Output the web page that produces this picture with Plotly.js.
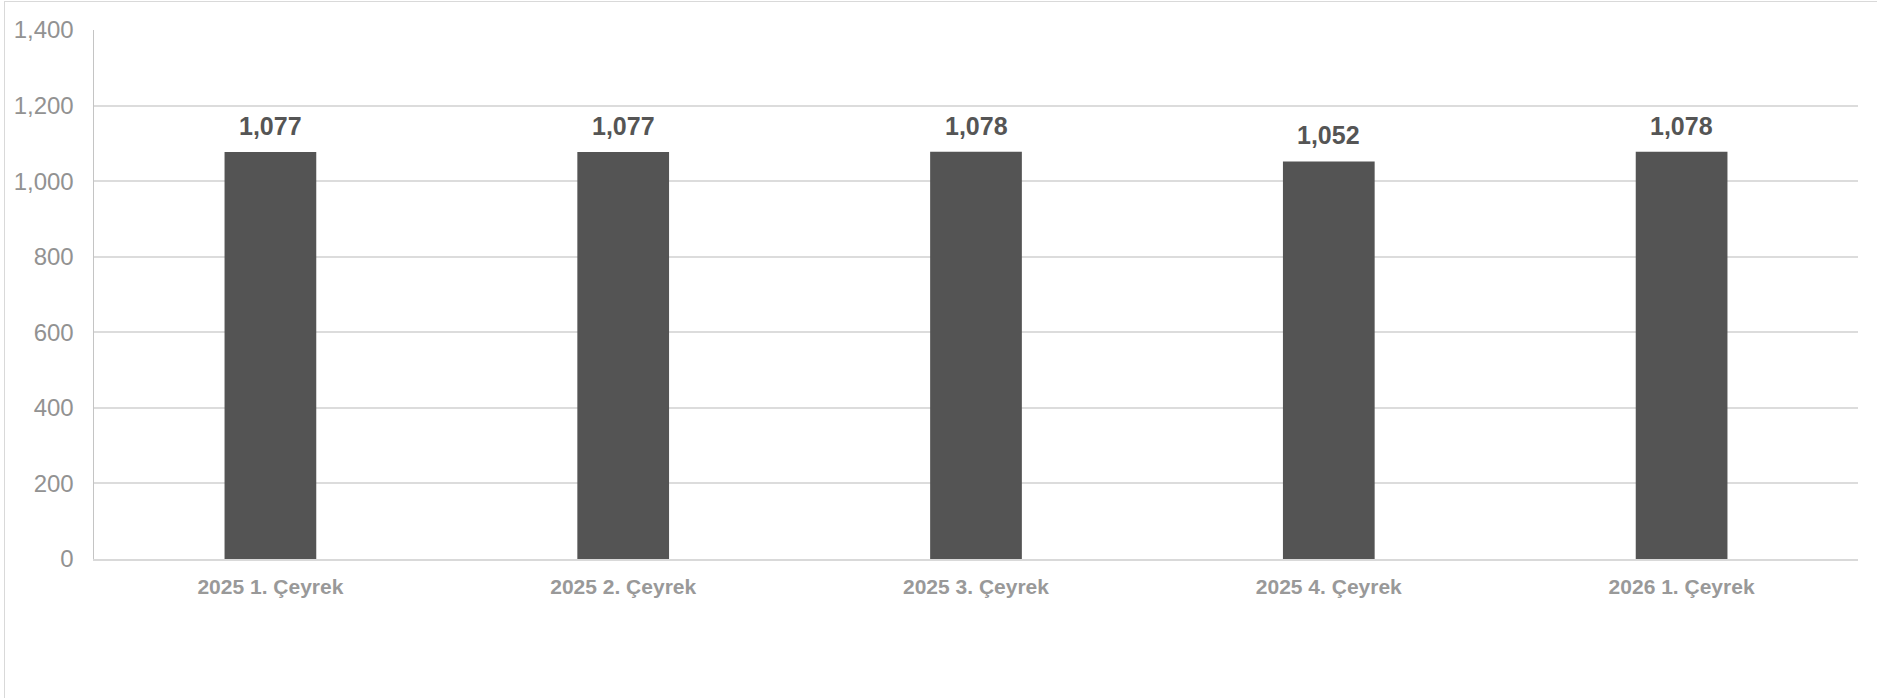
<!DOCTYPE html>
<html>
<head>
<meta charset="utf-8">
<script src="https://cdn.plot.ly/plotly-3.0.1.min.js"></script>
<style>
html,body{margin:0;padding:0;background:#fff;}
#frame{position:absolute;left:4px;top:1px;width:1900px;height:720px;border-left:1.5px solid #d9d9d9;border-top:1.5px solid #d9d9d9;box-sizing:border-box;pointer-events:none;}
#chart{position:absolute;left:0;top:0;width:1877px;height:698px;}
</style>
</head>
<body>
<div id="chart"></div>
<div id="frame"></div>
<script>
const categories = ["2025 1. Çeyrek", "2025 2. Çeyrek", "2025 3. Çeyrek", "2025 4. Çeyrek", "2026 1. Çeyrek"];
const values = [1077, 1077, 1078, 1052, 1078];
const yTickValues = [0, 200, 400, 600, 800, 1000, 1200, 1400];

const FONT = "Arial, 'Liberation Sans', sans-serif";

const trace = {
  type: "bar",
  x: categories,
  y: values,
  marker: {color: "#545454"},
  hoverinfo: "x+y"
};

const annotations = categories.map((c, i) => ({
  x: c,
  y: values[i],
  xref: "x",
  yref: "y",
  text: values[i].toLocaleString("en-US"),
  showarrow: false,
  yanchor: "bottom",
  yshift: 10,
  font: {family: FONT, size: 25, color: "#555555", weight: "bold"}
}));

const layout = {
  width: 1877,
  height: 698,
  margin: {l: 94, r: 19, t: 30, b: 139},
  paper_bgcolor: "#ffffff",
  plot_bgcolor: "#ffffff",
  showlegend: false,
  bargap: 0.74,
  font: {family: FONT},
  xaxis: {
    type: "category",
    showgrid: false,
    showline: true,
    linecolor: "#d9d9d9",
    linewidth: 2,
    ticks: "",
    ticklabelstandoff: 8,
    tickfont: {family: FONT, size: 21, color: "#999999", weight: "bold"}
  },
  yaxis: {
    range: [0, 1400],
    tickvals: yTickValues,
    tickformat: ",",
    showgrid: true,
    gridcolor: "#dcdcdc",
    gridwidth: 2,
    zeroline: false,
    showline: true,
    linecolor: "#c4c4c4",
    linewidth: 1.5,
    ticks: "",
    ticklabelstandoff: 14,
    tickfont: {family: FONT, size: 24, color: "#929292"}
  },
  annotations: annotations
};

Plotly.newPlot("chart", [trace], layout, {displayModeBar: false, staticPlot: true});
</script>
</body>
</html>
